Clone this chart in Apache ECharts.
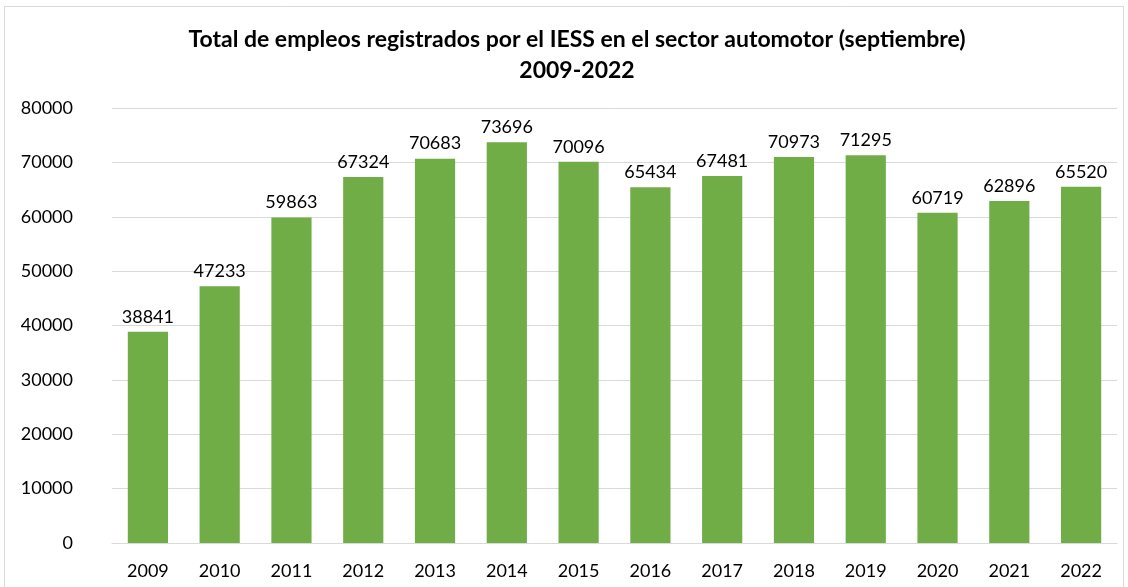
<!DOCTYPE html>
<html>
<head>
<meta charset="utf-8">
<script src="https://cdn.jsdelivr.net/npm/echarts@6/dist/echarts.min.js"></script>
<style>
html,body{margin:0;padding:0;background:#fff;}
#chart{width:1128px;height:587px;}
</style>
</head>
<body>
<div id="chart"></div>
<script>
// años y empleos registrados
var years = ['2009','2010','2011','2012','2013','2014','2015','2016','2017','2018','2019','2020','2021','2022'];
var empleos = [38841, 47233, 59863, 67324, 70683, 73696, 70096, 65434, 67481, 70973, 71295, 60719, 62896, 65520];
var yTicks = [0, 80000, 10000]; // min, max, intervalo

var fontFam = 'Lato, "Open Sans", sans-serif';

var option = {
	animation: false,
	title: {
		text: 'Total de empleos registrados por el IESS en el sector automotor (septiembre)\n2009-2022',
		left: 572,
		top: 19,
		textAlign: 'center',
		textStyle: {
			fontFamily: fontFam,
			fontWeight: 'bold',
			fontSize: 23,
			lineHeight: 31,
			color: '#000'
		}
	},
	graphic: [{
		type: 'rect',
		shape: { x: 4.5, y: 6.5, width: 1119, height: 600 },
		style: { fill: 'none', stroke: '#d9d9d9', lineWidth: 1 }
	}],
	grid: {
		left: 112,
		right: 11,
		top: 108,
		bottom: 44
	},
	xAxis: {
		type: 'category',
		data: years,
		axisTick: { show: false },
		axisLine: { lineStyle: { color: '#d9d9d9' } },
		axisLabel: {
			color: '#000',
			fontFamily: fontFam,
			fontSize: 18,
			margin: 19
		}
	},
	yAxis: {
		type: 'value',
		min: yTicks[0],
		max: yTicks[1],
		interval: yTicks[2],
		axisLine: { show: false },
		axisTick: { show: false },
		splitLine: { lineStyle: { color: '#d9d9d9' } },
		axisLabel: {
			color: '#000',
			fontFamily: fontFam,
			fontSize: 18,
			margin: 39,
			formatter: function (v) { return String(v); }
		}
	},
	series: [{
		type: 'bar',
		data: empleos,
		barWidth: '56%',
		itemStyle: { color: '#70ad47' },
		label: {
			show: true,
			position: 'top',
			distance: 6,
			color: '#000',
			fontFamily: fontFam,
			fontSize: 18
		}
	}]
};

var chart = echarts.init(document.getElementById('chart'));
chart.setOption(option);
</script>
</body>
</html>
